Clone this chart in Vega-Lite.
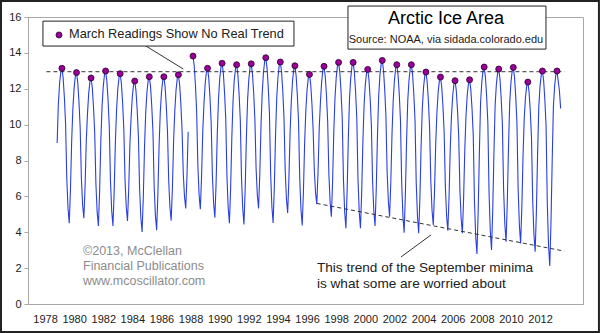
{
  "$schema": "https://vega.github.io/schema/vega-lite/v6.json",
  "width": 555,
  "height": 287,
  "autosize": {"type": "none"},
  "padding": {"left": 28, "top": 17, "right": 17, "bottom": 29},
  "background": "white",
  "config": {"view": {"stroke": "#a8a8a8", "strokeWidth": 1}, "font": "Liberation Sans"},
  "datasets": {
    "ice": [
      {"d":"1978-11","v":8.97},{"d":"1978-12","v":11.14},
      {"d":"1979-01","v":12.29},{"d":"1979-02","v":12.94},{"d":"1979-03","v":13.14},{"d":"1979-04","v":12.59},{"d":"1979-05","v":11.54},{"d":"1979-06","v":10.04},{"d":"1979-07","v":6.99},{"d":"1979-08","v":5.33},{"d":"1979-09","v":4.50},{"d":"1979-10","v":6.34},{"d":"1979-11","v":9.10},{"d":"1979-12","v":10.90},
      {"d":"1980-01","v":12.05},{"d":"1980-02","v":12.70},{"d":"1980-03","v":12.90},{"d":"1980-04","v":12.35},{"d":"1980-05","v":11.30},{"d":"1980-06","v":9.80},{"d":"1980-07","v":7.04},{"d":"1980-08","v":5.53},{"d":"1980-09","v":4.78},{"d":"1980-10","v":6.50},{"d":"1980-11","v":9.09},{"d":"1980-12","v":10.60},
      {"d":"1981-01","v":11.75},{"d":"1981-02","v":12.40},{"d":"1981-03","v":12.60},{"d":"1981-04","v":12.05},{"d":"1981-05","v":11.00},{"d":"1981-06","v":9.50},{"d":"1981-07","v":6.67},{"d":"1981-08","v":5.12},{"d":"1981-09","v":4.35},{"d":"1981-10","v":6.24},{"d":"1981-11","v":9.07},{"d":"1981-12","v":10.99},
      {"d":"1982-01","v":12.14},{"d":"1982-02","v":12.79},{"d":"1982-03","v":12.99},{"d":"1982-04","v":12.44},{"d":"1982-05","v":11.39},{"d":"1982-06","v":9.89},{"d":"1982-07","v":6.84},{"d":"1982-08","v":5.18},{"d":"1982-09","v":4.35},{"d":"1982-10","v":6.21},{"d":"1982-11","v":9.00},{"d":"1982-12","v":10.84},
      {"d":"1983-01","v":11.99},{"d":"1983-02","v":12.64},{"d":"1983-03","v":12.84},{"d":"1983-04","v":12.29},{"d":"1983-05","v":11.24},{"d":"1983-06","v":9.74},{"d":"1983-07","v":6.93},{"d":"1983-08","v":5.40},{"d":"1983-09","v":4.63},{"d":"1983-10","v":6.35},{"d":"1983-11","v":8.93},{"d":"1983-12","v":10.43},
      {"d":"1984-01","v":11.58},{"d":"1984-02","v":12.23},{"d":"1984-03","v":12.43},{"d":"1984-04","v":11.88},{"d":"1984-05","v":10.83},{"d":"1984-06","v":9.33},{"d":"1984-07","v":6.40},{"d":"1984-08","v":4.81},{"d":"1984-09","v":4.01},{"d":"1984-10","v":5.90},{"d":"1984-11","v":8.74},{"d":"1984-12","v":10.67},
      {"d":"1985-01","v":11.82},{"d":"1985-02","v":12.47},{"d":"1985-03","v":12.67},{"d":"1985-04","v":12.12},{"d":"1985-05","v":11.07},{"d":"1985-06","v":9.57},{"d":"1985-07","v":6.57},{"d":"1985-08","v":4.94},{"d":"1985-09","v":4.12},{"d":"1985-10","v":5.99},{"d":"1985-11","v":8.80},{"d":"1985-12","v":10.67},
      {"d":"1986-01","v":11.82},{"d":"1986-02","v":12.47},{"d":"1986-03","v":12.67},{"d":"1986-04","v":12.12},{"d":"1986-05","v":11.07},{"d":"1986-06","v":9.57},{"d":"1986-07","v":6.86},{"d":"1986-08","v":5.39},{"d":"1986-09","v":4.65},{"d":"1986-10","v":6.44},{"d":"1986-11","v":9.12},{"d":"1986-12","v":10.78},
      {"d":"1987-01","v":11.93},{"d":"1987-02","v":12.58},{"d":"1987-03","v":12.78},{"d":"1987-04","v":12.23},{"d":"1987-05","v":11.18},{"d":"1987-06","v":9.68},{"d":"1987-07","v":7.29},{"d":"1987-08","v":5.98},{"d":"1987-09","v":5.33},{"d":"1987-10","v":7.04},{"d":"1987-11","v":9.60},{"d":"1987-12","v":null},
      {"d":"1988-01","v":null},{"d":"1988-02","v":null},{"d":"1988-03","v":13.82},{"d":"1988-04","v":13.27},{"d":"1988-05","v":12.22},{"d":"1988-06","v":10.72},{"d":"1988-07","v":7.73},{"d":"1988-08","v":6.10},{"d":"1988-09","v":5.28},{"d":"1988-10","v":7.01},{"d":"1988-11","v":9.61},{"d":"1988-12","v":11.14},
      {"d":"1989-01","v":12.29},{"d":"1989-02","v":12.94},{"d":"1989-03","v":13.14},{"d":"1989-04","v":12.59},{"d":"1989-05","v":11.54},{"d":"1989-06","v":10.04},{"d":"1989-07","v":7.16},{"d":"1989-08","v":5.59},{"d":"1989-09","v":4.81},{"d":"1989-10","v":6.69},{"d":"1989-11","v":9.52},{"d":"1989-12","v":11.42},
      {"d":"1990-01","v":12.57},{"d":"1990-02","v":13.22},{"d":"1990-03","v":13.42},{"d":"1990-04","v":12.87},{"d":"1990-05","v":11.82},{"d":"1990-06","v":10.32},{"d":"1990-07","v":7.12},{"d":"1990-08","v":5.37},{"d":"1990-09","v":4.50},{"d":"1990-10","v":6.43},{"d":"1990-11","v":9.32},{"d":"1990-12","v":11.34},
      {"d":"1991-01","v":12.49},{"d":"1991-02","v":13.14},{"d":"1991-03","v":13.34},{"d":"1991-04","v":12.79},{"d":"1991-05","v":11.74},{"d":"1991-06","v":10.24},{"d":"1991-07","v":7.05},{"d":"1991-08","v":5.31},{"d":"1991-09","v":4.44},{"d":"1991-10","v":6.39},{"d":"1991-11","v":9.32},{"d":"1991-12","v":11.39},
      {"d":"1992-01","v":12.54},{"d":"1992-02","v":13.19},{"d":"1992-03","v":13.39},{"d":"1992-04","v":12.84},{"d":"1992-05","v":11.79},{"d":"1992-06","v":10.29},{"d":"1992-07","v":7.56},{"d":"1992-08","v":6.07},{"d":"1992-09","v":5.32},{"d":"1992-10","v":7.16},{"d":"1992-11","v":9.93},{"d":"1992-12","v":11.73},
      {"d":"1993-01","v":12.88},{"d":"1993-02","v":13.53},{"d":"1993-03","v":13.73},{"d":"1993-04","v":13.18},{"d":"1993-05","v":12.13},{"d":"1993-06","v":10.63},{"d":"1993-07","v":7.27},{"d":"1993-08","v":5.44},{"d":"1993-09","v":4.52},{"d":"1993-10","v":6.48},{"d":"1993-11","v":9.41},{"d":"1993-12","v":11.49},
      {"d":"1994-01","v":12.64},{"d":"1994-02","v":13.29},{"d":"1994-03","v":13.49},{"d":"1994-04","v":12.94},{"d":"1994-05","v":11.89},{"d":"1994-06","v":10.39},{"d":"1994-07","v":7.46},{"d":"1994-08","v":5.87},{"d":"1994-09","v":5.07},{"d":"1994-10","v":6.87},{"d":"1994-11","v":9.58},{"d":"1994-12","v":11.28},
      {"d":"1995-01","v":12.43},{"d":"1995-02","v":13.08},{"d":"1995-03","v":13.28},{"d":"1995-04","v":12.73},{"d":"1995-05","v":11.68},{"d":"1995-06","v":10.18},{"d":"1995-07","v":6.99},{"d":"1995-08","v":5.25},{"d":"1995-09","v":4.38},{"d":"1995-10","v":6.22},{"d":"1995-11","v":8.99},{"d":"1995-12","v":10.80},
      {"d":"1996-01","v":11.95},{"d":"1996-02","v":12.60},{"d":"1996-03","v":12.80},{"d":"1996-04","v":12.25},{"d":"1996-05","v":11.20},{"d":"1996-06","v":9.70},{"d":"1996-07","v":7.43},{"d":"1996-08","v":6.19},{"d":"1996-09","v":5.57},{"d":"1996-10","v":7.27},{"d":"1996-11","v":9.81},{"d":"1996-12","v":11.25},
      {"d":"1997-01","v":12.40},{"d":"1997-02","v":13.05},{"d":"1997-03","v":13.25},{"d":"1997-04","v":12.70},{"d":"1997-05","v":11.65},{"d":"1997-06","v":10.15},{"d":"1997-07","v":7.25},{"d":"1997-08","v":5.66},{"d":"1997-09","v":4.87},{"d":"1997-10","v":6.75},{"d":"1997-11","v":9.57},{"d":"1997-12","v":11.47},
      {"d":"1998-01","v":12.62},{"d":"1998-02","v":13.27},{"d":"1998-03","v":13.47},{"d":"1998-04","v":12.92},{"d":"1998-05","v":11.87},{"d":"1998-06","v":10.37},{"d":"1998-07","v":6.99},{"d":"1998-08","v":5.14},{"d":"1998-09","v":4.22},{"d":"1998-10","v":6.23},{"d":"1998-11","v":9.25},{"d":"1998-12","v":11.47},
      {"d":"1999-01","v":12.62},{"d":"1999-02","v":13.27},{"d":"1999-03","v":13.47},{"d":"1999-04","v":12.92},{"d":"1999-05","v":11.87},{"d":"1999-06","v":10.37},{"d":"1999-07","v":6.99},{"d":"1999-08","v":5.14},{"d":"1999-09","v":4.22},{"d":"1999-10","v":6.15},{"d":"1999-11","v":9.05},{"d":"1999-12","v":11.08},
      {"d":"2000-01","v":12.23},{"d":"2000-02","v":12.88},{"d":"2000-03","v":13.08},{"d":"2000-04","v":12.53},{"d":"2000-05","v":11.48},{"d":"2000-06","v":9.98},{"d":"2000-07","v":6.88},{"d":"2000-08","v":5.19},{"d":"2000-09","v":4.35},{"d":"2000-10","v":6.36},{"d":"2000-11","v":9.37},{"d":"2000-12","v":11.58},
      {"d":"2001-01","v":12.73},{"d":"2001-02","v":13.38},{"d":"2001-03","v":13.58},{"d":"2001-04","v":13.03},{"d":"2001-05","v":11.98},{"d":"2001-06","v":10.48},{"d":"2001-07","v":7.39},{"d":"2001-08","v":5.71},{"d":"2001-09","v":4.87},{"d":"2001-10","v":6.73},{"d":"2001-11","v":9.51},{"d":"2001-12","v":11.34},
      {"d":"2002-01","v":12.49},{"d":"2002-02","v":13.14},{"d":"2002-03","v":13.34},{"d":"2002-04","v":12.79},{"d":"2002-05","v":11.74},{"d":"2002-06","v":10.24},{"d":"2002-07","v":6.80},{"d":"2002-08","v":4.92},{"d":"2002-09","v":3.98},{"d":"2002-10","v":6.01},{"d":"2002-11","v":9.06},{"d":"2002-12","v":11.34},
      {"d":"2003-01","v":12.49},{"d":"2003-02","v":13.14},{"d":"2003-03","v":13.34},{"d":"2003-04","v":12.79},{"d":"2003-05","v":11.74},{"d":"2003-06","v":10.24},{"d":"2003-07","v":6.78},{"d":"2003-08","v":4.89},{"d":"2003-09","v":3.94},{"d":"2003-10","v":5.90},{"d":"2003-11","v":8.84},{"d":"2003-12","v":10.93},
      {"d":"2004-01","v":12.08},{"d":"2004-02","v":12.73},{"d":"2004-03","v":12.93},{"d":"2004-04","v":12.38},{"d":"2004-05","v":11.33},{"d":"2004-06","v":9.83},{"d":"2004-07","v":6.84},{"d":"2004-08","v":5.21},{"d":"2004-09","v":4.40},{"d":"2004-10","v":6.21},{"d":"2004-11","v":8.93},{"d":"2004-12","v":10.65},
      {"d":"2005-01","v":11.80},{"d":"2005-02","v":12.45},{"d":"2005-03","v":12.65},{"d":"2005-04","v":12.10},{"d":"2005-05","v":11.05},{"d":"2005-06","v":9.55},{"d":"2005-07","v":6.55},{"d":"2005-08","v":4.91},{"d":"2005-09","v":4.09},{"d":"2005-10","v":5.92},{"d":"2005-11","v":8.67},{"d":"2005-12","v":10.45},
      {"d":"2006-01","v":11.60},{"d":"2006-02","v":12.25},{"d":"2006-03","v":12.45},{"d":"2006-04","v":11.90},{"d":"2006-05","v":10.85},{"d":"2006-06","v":9.35},{"d":"2006-07","v":6.37},{"d":"2006-08","v":4.75},{"d":"2006-09","v":3.94},{"d":"2006-10","v":5.81},{"d":"2006-11","v":8.62},{"d":"2006-12","v":10.50},
      {"d":"2007-01","v":11.65},{"d":"2007-02","v":12.30},{"d":"2007-03","v":12.50},{"d":"2007-04","v":11.95},{"d":"2007-05","v":10.90},{"d":"2007-06","v":9.40},{"d":"2007-07","v":5.76},{"d":"2007-08","v":3.78},{"d":"2007-09","v":2.79},{"d":"2007-10","v":5.03},{"d":"2007-11","v":8.40},{"d":"2007-12","v":11.21},
      {"d":"2008-01","v":12.36},{"d":"2008-02","v":13.01},{"d":"2008-03","v":13.21},{"d":"2008-04","v":12.66},{"d":"2008-05","v":11.61},{"d":"2008-06","v":10.11},{"d":"2008-07","v":6.21},{"d":"2008-08","v":4.08},{"d":"2008-09","v":3.01},{"d":"2008-10","v":5.19},{"d":"2008-11","v":8.46},{"d":"2008-12","v":11.10},
      {"d":"2009-01","v":12.25},{"d":"2009-02","v":12.90},{"d":"2009-03","v":13.10},{"d":"2009-04","v":12.55},{"d":"2009-05","v":11.50},{"d":"2009-06","v":10.00},{"d":"2009-07","v":6.41},{"d":"2009-08","v":4.45},{"d":"2009-09","v":3.47},{"d":"2009-10","v":5.57},{"d":"2009-11","v":8.73},{"d":"2009-12","v":11.19},
      {"d":"2010-01","v":12.34},{"d":"2010-02","v":12.99},{"d":"2010-03","v":13.19},{"d":"2010-04","v":12.64},{"d":"2010-05","v":11.59},{"d":"2010-06","v":10.09},{"d":"2010-07","v":6.40},{"d":"2010-08","v":4.39},{"d":"2010-09","v":3.38},{"d":"2010-10","v":5.34},{"d":"2010-11","v":8.28},{"d":"2010-12","v":10.37},
      {"d":"2011-01","v":11.52},{"d":"2011-02","v":12.17},{"d":"2011-03","v":12.37},{"d":"2011-04","v":11.82},{"d":"2011-05","v":10.77},{"d":"2011-06","v":9.27},{"d":"2011-07","v":5.78},{"d":"2011-08","v":3.87},{"d":"2011-09","v":2.92},{"d":"2011-10","v":5.10},{"d":"2011-11","v":8.36},{"d":"2011-12","v":10.99},
      {"d":"2012-01","v":12.14},{"d":"2012-02","v":12.79},{"d":"2012-03","v":12.99},{"d":"2012-04","v":12.44},{"d":"2012-05","v":11.39},{"d":"2012-06","v":9.89},{"d":"2012-07","v":5.62},{"d":"2012-08","v":3.29},{"d":"2012-09","v":2.12},{"d":"2012-10","v":4.46},{"d":"2012-11","v":7.96},{"d":"2012-12","v":10.99},
      {"d":"2013-01","v":12.14},{"d":"2013-02","v":12.79},{"d":"2013-03","v":12.99},{"d":"2013-04","v":12.44},{"d":"2013-05","v":11.90},{"d":"2013-06","v":10.90}
    ]
  },
  "encoding": {
    "x": {
      "field": "d", "type": "temporal",
      "scale": {"type": "utc", "domain": [{"year": 1976, "month": 10, "date": 31, "utc": true}, {"year": 2014, "month": 12, "date": 14, "utc": true}]},
      "axis": {
        "title": null, "grid": false, "ticks": false, "labelPadding": 9,
        "formatType": "utc", "format": "%Y",
        "values": [{"year":1978,"utc":true},{"year":1980,"utc":true},{"year":1982,"utc":true},{"year":1984,"utc":true},{"year":1986,"utc":true},{"year":1988,"utc":true},{"year":1990,"utc":true},{"year":1992,"utc":true},{"year":1994,"utc":true},{"year":1996,"utc":true},{"year":1998,"utc":true},{"year":2000,"utc":true},{"year":2002,"utc":true},{"year":2004,"utc":true},{"year":2006,"utc":true},{"year":2008,"utc":true},{"year":2010,"utc":true},{"year":2012,"utc":true}],
        "labelFont": "Liberation Sans", "labelFontSize": 11, "labelColor": "#222222",
        "labelOverlap": false, "labelFlush": false, "domainColor": "#a8a8a8"
      }
    },
    "y": {
      "field": "v", "type": "quantitative",
      "scale": {"domain": [0, 16], "nice": false, "zero": false},
      "axis": {
        "title": null, "grid": false, "values": [0, 2, 4, 6, 8, 10, 12, 14, 16],
        "tickSize": 4, "tickColor": "#a8a8a8", "domainColor": "#a8a8a8", "labelPadding": 3,
        "labelFont": "Liberation Sans", "labelFontSize": 11, "labelColor": "#222222"
      }
    }
  },
  "layer": [
    {
      "data": {"values": [{"d": "1974-12-24", "d2": "2016-01-18", "v": 16.89, "v2": -1.56}], "format": {"parse": {"d": "date", "d2": "date"}}},
      "mark": {"type": "rect", "fill": null, "fillOpacity": 0, "stroke": "#222222", "strokeWidth": 2, "clip": false},
      "encoding": {"x2": {"field": "d2"}, "y2": {"field": "v2"}}
    },
    {
      "data": {"name": "ice"},
      "mark": {"type": "line", "color": "#2a3fe0", "strokeWidth": 1.1},
      "encoding": {}
    },
    {
      "data": {"values": [{"d": "1978-02-05", "v": 12.95}, {"d": "2013-09-10", "v": 12.95}]},
      "mark": {"type": "line", "color": "#333333", "strokeWidth": 1, "strokeDash": [4, 3]},
      "encoding": {}
    },
    {
      "data": {"values": [{"d": "1996-08-28", "v": 5.61}, {"d": "2013-09-01", "v": 2.95}]},
      "mark": {"type": "line", "color": "#333333", "strokeWidth": 1, "strokeDash": [4, 3]},
      "encoding": {}
    },
    {
      "data": {"values": [{"d": "1984-08-22", "v": 14.53}, {"d": "1987-07-01", "v": 13.10}]},
      "mark": {"type": "line", "color": "#333333", "strokeWidth": 1},
      "encoding": {}
    },
    {
      "data": {"values": [{"d": "2002-06-13", "v": 2.62}, {"d": "2004-07-05", "v": 3.85}]},
      "mark": {"type": "line", "color": "#333333", "strokeWidth": 1},
      "encoding": {}
    },
    {
      "data": {"name": "ice"},
      "transform": [{"filter": {"field": "d", "timeUnit": "utcmonth", "equal": {"month": 3, "utc": true}}}],
      "mark": {"type": "point", "filled": true, "fill": "#990099", "stroke": "#2a002a", "strokeWidth": 0.8, "size": 36, "opacity": 1}
    },
    {
      "data": {"values": [{"d": "1977-11-10", "d2": "1995-02-06", "v": 15.77, "v2": 14.38}, {"d": "1998-10-23", "d2": "2012-05-29", "v": 16.61, "v2": 14.21}], "format": {"parse": {"d": "date", "d2": "date"}}},
      "mark": {"type": "rect", "fill": "white", "stroke": "#222222", "strokeWidth": 1, "clip": false},
      "encoding": {"x2": {"field": "d2"}, "y2": {"field": "v2"}}
    },
    {
      "data": {"values": [{"d": "1978-12-17", "v": 15.0}]},
      "mark": {"type": "point", "filled": true, "fill": "#990099", "stroke": "#2a002a", "strokeWidth": 0.8, "size": 36, "opacity": 1, "clip": false}
    },
    {
      "data": {"values": [{"d": "1979-08-25", "v": 15.05, "t": "March Readings Show No Real Trend"}]},
      "mark": {"type": "text", "align": "left", "baseline": "middle", "font": "Liberation Sans", "fontSize": 12.8, "color": "#222222", "clip": false},
      "encoding": {"text": {"field": "t"}}
    },
    {
      "data": {"values": [{"d": "2005-07-16", "v": 15.61, "t": "Arctic Ice Area"}]},
      "mark": {"type": "text", "align": "center", "baseline": "alphabetic", "font": "Liberation Sans", "fontSize": 18, "color": "#000000", "clip": false},
      "encoding": {"text": {"field": "t"}}
    },
    {
      "data": {"values": [{"d": "2005-07-16", "v": 14.53, "t": "Source: NOAA, via sidada.colorado.edu"}]},
      "mark": {"type": "text", "align": "center", "baseline": "alphabetic", "font": "Liberation Sans", "fontSize": 11, "color": "#222222", "clip": false},
      "encoding": {"text": {"field": "t"}}
    },
    {
      "data": {"values": [{"d": "1980-08-11", "v": 2.73, "t": "©2013, McClellan"}, {"d": "1980-08-11", "v": 1.90, "t": "Financial Publications"}, {"d": "1980-08-11", "v": 1.06, "t": "www.mcoscillator.com"}]},
      "mark": {"type": "text", "align": "left", "baseline": "alphabetic", "font": "Liberation Sans", "fontSize": 12.5, "color": "#8c8c8c"},
      "encoding": {"text": {"field": "t"}}
    },
    {
      "data": {"values": [{"d": "1996-09-05", "v": 1.80, "t": "This trend of the September minima"}, {"d": "1996-09-05", "v": 0.91, "t": "is what some are worried about"}]},
      "mark": {"type": "text", "align": "left", "baseline": "alphabetic", "font": "Liberation Sans", "fontSize": 13.6, "color": "#222222"},
      "encoding": {"text": {"field": "t"}}
    }
  ]
}
